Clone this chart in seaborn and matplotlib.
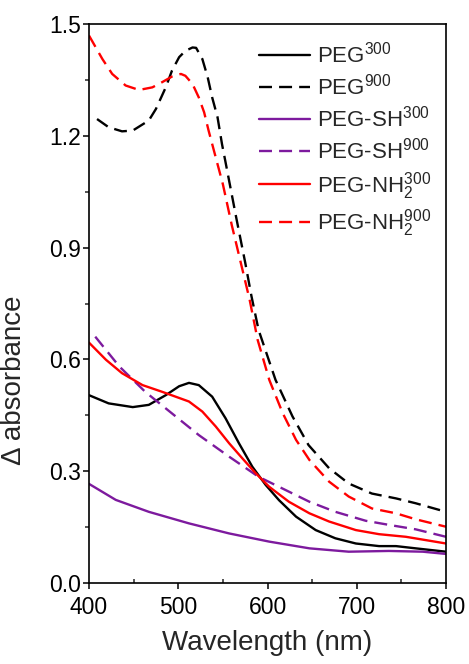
import matplotlib
matplotlib.use("Agg")
import matplotlib.pyplot as plt
import seaborn as sns
import pandas as pd
from matplotlib.ticker import MultipleLocator, FormatStrFormatter

sns.set_style("ticks")
plt.rcParams['font.family'] = ['Liberation Sans', 'DejaVu Sans']
plt.rcParams['mathtext.fontset'] = 'custom'
plt.rcParams['mathtext.rm'] = 'Liberation Sans'
plt.rcParams['mathtext.it'] = 'Liberation Sans'
plt.rcParams['mathtext.default'] = 'regular'

# ---- data ----
wl_peg300 = [400, 422, 449, 467, 486, 501, 512, 523, 538, 553, 568, 583, 598, 613, 632, 654, 676, 699, 725, 744, 766, 800]
abs_peg300 = [0.504, 0.482, 0.472, 0.478, 0.504, 0.528, 0.537, 0.531, 0.500, 0.442, 0.375, 0.312, 0.263, 0.222, 0.178, 0.142, 0.120, 0.106, 0.099, 0.099, 0.093, 0.084]

wl_peg900 = [409, 422, 437, 449, 467, 475, 486, 493, 501, 508, 516, 520, 527, 533, 538, 544, 549, 553, 565, 575, 582, 590, 609, 628, 646, 669, 691, 717, 744, 766, 800]
abs_peg900 = [1.245, 1.223, 1.212, 1.214, 1.241, 1.272, 1.330, 1.375, 1.411, 1.428, 1.437, 1.436, 1.406, 1.357, 1.303, 1.250, 1.178, 1.129, 0.980, 0.860, 0.770, 0.679, 0.545, 0.447, 0.370, 0.308, 0.267, 0.240, 0.227, 0.214, 0.191]

wl_sh300 = [400, 430, 467, 512, 557, 602, 647, 691, 736, 774, 800]
abs_sh300 = [0.266, 0.223, 0.191, 0.160, 0.133, 0.111, 0.093, 0.084, 0.086, 0.084, 0.078]

wl_sh900 = [407, 434, 463, 493, 523, 557, 590, 613, 647, 676, 710, 736, 766, 800]
abs_sh900 = [0.661, 0.581, 0.513, 0.455, 0.397, 0.339, 0.285, 0.258, 0.218, 0.191, 0.167, 0.156, 0.144, 0.124]

wl_nh300 = [400, 419, 437, 460, 482, 497, 512, 527, 542, 557, 572, 587, 602, 624, 647, 669, 699, 725, 755, 800]
abs_nh300 = [0.645, 0.599, 0.563, 0.531, 0.513, 0.500, 0.487, 0.460, 0.420, 0.375, 0.334, 0.294, 0.258, 0.218, 0.187, 0.165, 0.142, 0.131, 0.124, 0.106]

wl_nh900 = [400, 415, 426, 441, 456, 471, 482, 493, 503, 508, 516, 523, 529, 534, 540, 550, 560, 570, 580, 589, 602, 617, 632, 647, 669, 691, 717, 744, 766, 800]
abs_nh900 = [1.469, 1.406, 1.366, 1.335, 1.323, 1.330, 1.344, 1.359, 1.366, 1.361, 1.339, 1.303, 1.263, 1.214, 1.160, 1.070, 0.960, 0.860, 0.760, 0.652, 0.545, 0.456, 0.384, 0.330, 0.272, 0.232, 0.200, 0.187, 0.171, 0.151]

labels = [r'PEG$^{300}$', r'PEG$^{900}$', r'PEG-SH$^{300}$', r'PEG-SH$^{900}$',
          r'PEG-NH$_2^{300}$', r'PEG-NH$_2^{900}$']
series = [(wl_peg300, abs_peg300), (wl_peg900, abs_peg900),
          (wl_sh300, abs_sh300), (wl_sh900, abs_sh900),
          (wl_nh300, abs_nh300), (wl_nh900, abs_nh900)]
colors = ['#000000', '#000000', '#7D1A9E', '#7D1A9E', '#FF0000', '#FF0000']
dashed = [False, True, False, True, False, True]

fig = plt.figure(figsize=(4.69, 6.64), dpi=100)
ax = fig.add_axes([89/469, 1-583/664, (446-89)/469, (583-24)/664])

for (x, y), lab, c, d in zip(series, labels, colors, dashed):
    df = pd.DataFrame({'wl': x, 'a': y})
    sns.lineplot(data=df, x='wl', y='a', ax=ax, color=c, lw=1.7, label=lab, sort=False)
    l = ax.get_lines()[-1]
    l.set_solid_joinstyle('round')
    l.set_dash_joinstyle('round')
    if d:
        l.set_dashes((5.5, 3))

ax.set_xlim(400, 800)
ax.set_ylim(0, 1.5)
ax.xaxis.set_major_locator(MultipleLocator(100))
ax.xaxis.set_minor_locator(MultipleLocator(50))
ax.yaxis.set_major_locator(MultipleLocator(0.3))
ax.yaxis.set_minor_locator(MultipleLocator(0.15))
ax.yaxis.set_major_formatter(FormatStrFormatter('%.1f'))

ax.tick_params(axis='both', which='major', direction='out', length=4, width=1.1,
               labelsize=16.5, color='black', labelcolor='black')
ax.tick_params(axis='x', which='major', pad=5)
ax.tick_params(axis='y', which='major', pad=2)
ax.tick_params(axis='x', which='minor', direction='in', length=3, width=1.1)
ax.tick_params(axis='y', which='minor', direction='out', length=3, width=1.1)
for s in ax.spines.values():
    s.set_visible(True)
    s.set_linewidth(1.2)
    s.set_color('black')

ax.set_xlabel('Wavelength (nm)', fontsize=20, labelpad=8)
ax.set_ylabel('Δ absorbance', fontsize=20)
ax.yaxis.set_label_coords((27-89)/357, (583-380)/559)

ax.legend(loc='upper left', bbox_to_anchor=((259-89)/357, (583-42)/559),
          frameon=False, fontsize=16, handlelength=2.3, handletextpad=0.3,
          labelspacing=0.27, borderpad=0, borderaxespad=0)

fig.savefig('out.png', dpi=100)
